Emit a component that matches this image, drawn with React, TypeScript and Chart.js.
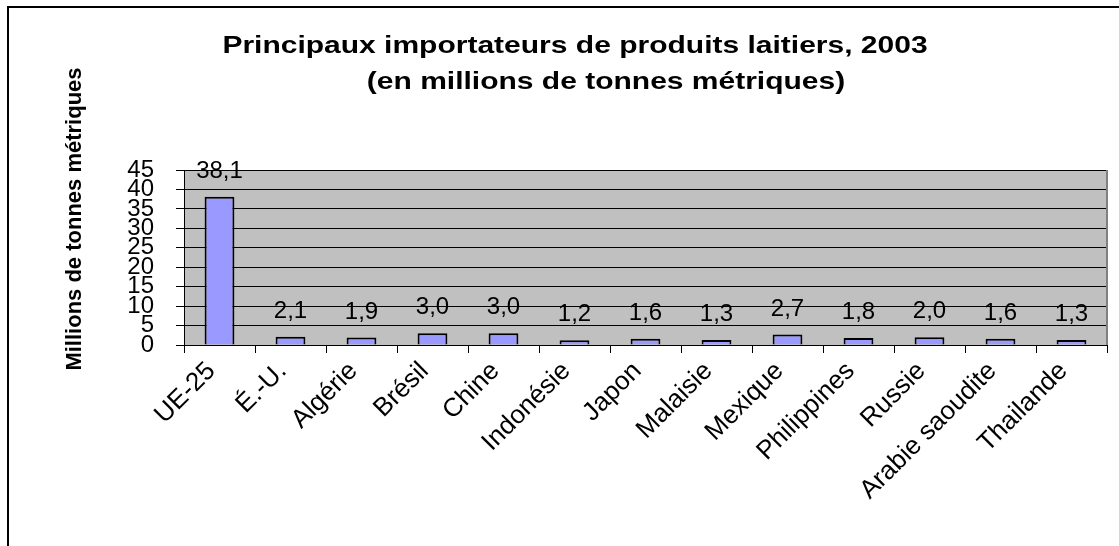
import React, { useEffect, useRef } from "react";
import { Chart, registerables } from "chart.js";

Chart.register(...registerables);

const categories = [
  "UE-25",
  "É.-U.",
  "Algérie",
  "Brésil",
  "Chine",
  "Indonésie",
  "Japon",
  "Malaisie",
  "Mexique",
  "Philippines",
  "Russie",
  "Arabie saoudite",
  "Thailande",
];
const values = [38.1, 2.1, 1.9, 3.0, 3.0, 1.2, 1.6, 1.3, 2.7, 1.8, 2.0, 1.6, 1.3];
const titleLines = [
  "Principaux importateurs de produits laitiers, 2003",
  "(en millions de tonnes métriques)",
];
const yAxisTitle = "Millions de tonnes métriques";
const yMin = 0;
const yMax = 45;
const yStep = 5;

const FONT = "'Liberation Sans', Arial, sans-serif";

const decorPlugin = {
  id: "decor",
  beforeDraw(chart: any) {
    const { ctx, chartArea, width, height } = chart;
    ctx.save();
    ctx.fillStyle = "#ffffff";
    ctx.fillRect(0, 0, width, height);
    ctx.fillStyle = "#000000";
    ctx.fillRect(8, 6, width - 8, 2);
    ctx.fillRect(7, 6, 2, height - 6);
    ctx.fillStyle = "#C0C0C0";
    ctx.fillRect(chartArea.left, chartArea.top, chartArea.right - chartArea.left, chartArea.bottom - chartArea.top);
    ctx.restore();
  },
  afterDraw(chart: any) {
    const { ctx, chartArea } = chart;
    ctx.save();
    ctx.strokeStyle = "#808080";
    ctx.lineWidth = 2;
    ctx.beginPath();
    ctx.moveTo(chartArea.right, chartArea.top);
    ctx.lineTo(chartArea.right, chartArea.bottom);
    ctx.stroke();
    ctx.fillStyle = "#000000";
    ctx.font = `bold 24px ${FONT}`;
    ctx.textAlign = "center";
    ctx.textBaseline = "alphabetic";
    const sx = 1.25;
    ctx.save();
    ctx.translate(575, 53);
    ctx.scale(sx, 1);
    ctx.fillText(titleLines[0], 0, 0);
    ctx.restore();
    ctx.save();
    ctx.translate(606, 89);
    ctx.scale(sx, 1);
    ctx.fillText(titleLines[1], 0, 0);
    ctx.restore();
    ctx.font = `bold 22px ${FONT}`;
    ctx.translate(81, 219);
    ctx.rotate(-Math.PI / 2);
    ctx.fillText(yAxisTitle, 0, 0);
    ctx.restore();
  },
  afterDatasetsDraw(chart: any) {
    const { ctx } = chart;
    const meta = chart.getDatasetMeta(0);
    ctx.save();
    ctx.fillStyle = "#000000";
    ctx.font = `24px ${FONT}`;
    ctx.textAlign = "center";
    ctx.textBaseline = "alphabetic";
    meta.data.forEach((bar: any, i: number) => {
      const v = values[i];
      ctx.fillText(v.toFixed(1).replace(".", ","), bar.x, bar.y - 19);
    });
    ctx.restore();
  },
};

export default function App() {
  const ref = useRef<HTMLCanvasElement | null>(null);
  useEffect(() => {
    if (!ref.current) return;
    const chart = new Chart(ref.current, {
      type: "bar",
      data: {
        labels: categories,
        datasets: [
          {
            data: values,
            backgroundColor: "#9999FF",
            borderColor: "#000000",
            borderWidth: 2,
            barPercentage: 0.42,
            categoryPercentage: 1,
          },
        ],
      },
      plugins: [decorPlugin],
      options: {
        animation: false,
        responsive: false,
        maintainAspectRatio: false,
        layout: { padding: { left: 0, top: 170, right: 12, bottom: 0 } },
        plugins: {
          legend: { display: false },
          title: { display: false },
          tooltip: { enabled: false },
        },
        scales: {
          x: {
            afterFit(scale: any) {
              scale.height = 201;
            },
            grid: {
              offset: true,
              drawOnChartArea: false,
              drawTicks: true,
              tickLength: 8,
              color: "#000000",
            },
            border: { color: "#000000", width: 1 },
            ticks: {
              autoSkip: false,
              minRotation: 45,
              maxRotation: 45,
              padding: 3,
              labelOffset: -8,
              color: "#000000",
              font: { family: FONT, size: 26 },
            },
          },
          y: {
            min: yMin,
            max: yMax,
            afterFit(scale: any) {
              scale.width = 184;
            },
            grid: {
              color: "#000000",
              drawTicks: true,
              tickLength: 8,
            },
            border: { color: "#000000", width: 1 },
            ticks: {
              stepSize: yStep,
              autoSkip: false,
              padding: 22,
              color: "#000000",
              font: { family: FONT, size: 24 },
            },
          },
        },
      },
    });
    return () => chart.destroy();
  }, []);
  return (
    <div style={{ position: "fixed", left: 0, top: 0, width: 1119, height: 546, background: "#fff" }}>
      <canvas ref={ref} width={1119} height={546} style={{ display: "block", width: 1119, height: 546 }} />
    </div>
  );
}
